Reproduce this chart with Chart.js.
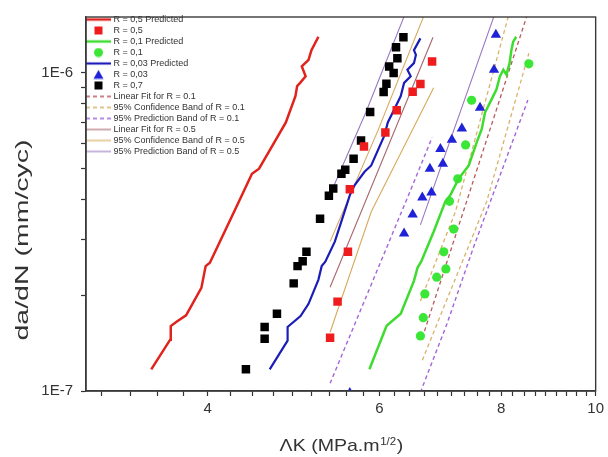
<!DOCTYPE html>
<html>
<head>
<meta charset="utf-8">
<script src="https://cdn.jsdelivr.net/npm/chart.js@4.4.1/dist/chart.umd.min.js"></script>
<style>
  html, body { margin: 0; padding: 0; background: #fff; }
  #wrap { width: 608px; height: 457px; position: relative; }
</style>
</head>
<body>
<div id="wrap"><canvas id="chart"></canvas></div>
<script>
// predicted curves
const redPredX = [3.50, 3.66, 3.665, 3.725, 3.80, 3.94, 3.98, 4.02, 4.29, 4.44, 4.515, 4.66, 4.81, 4.92, 4.94, 4.975, 5.04, 4.995, 5.075, 5.11, 5.195];
const redPredY = [1.17e-7, 1.45e-7, 1.60e-7, 1.66e-7, 1.73e-7, 2.11e-7, 2.47e-7, 2.53e-7, 3.85e-7, 4.82e-7, 5.00e-7, 5.91e-7, 6.99e-7, 8.46e-7, 9.09e-7, 9.31e-7, 9.76e-7, 1.049e-6, 1.10e-6, 1.18e-6, 1.30e-6];
const greenPredX = [5.86, 6.095, 6.11, 6.31, 6.51, 6.565, 6.625, 6.82, 7.01, 7.095, 7.235, 7.41, 7.55, 7.64, 7.70, 7.82, 7.91, 7.975, 8.04, 8.10, 8.16, 8.195, 8.23, 8.29];
const greenPredY = [1.17e-7, 1.59e-7, 1.61e-7, 1.75e-7, 2.22e-7, 2.44e-7, 2.56e-7, 3.17e-7, 3.94e-7, 4.13e-7, 4.65e-7, 5.12e-7, 6.05e-7, 6.66e-7, 7.51e-7, 8.26e-7, 8.87e-7, 9.76e-7, 1.024e-6, 9.88e-7, 1.074e-6, 1.18e-6, 1.255e-6, 1.30e-6];
const bluePredX = [4.63, 4.83, 4.83, 4.98, 5.075, 5.195, 5.235, 5.28, 5.40, 5.53, 5.595, 5.66, 5.79, 5.885, 6.07, 6.12, 6.215, 6.31, 6.36, 6.46, 6.41, 6.51, 6.54, 6.51, 6.61];
const bluePredY = [1.17e-7, 1.44e-7, 1.59e-7, 1.72e-7, 1.88e-7, 2.24e-7, 2.47e-7, 2.55e-7, 2.95e-7, 3.69e-7, 4.13e-7, 4.44e-7, 4.88e-7, 5.12e-7, 6.35e-7, 6.99e-7, 7.69e-7, 8.46e-7, 9.31e-7, 9.76e-7, 1.024e-6, 1.074e-6, 1.14e-6, 1.18e-6, 1.285e-6];

// measured points
const r05X = [5.34, 5.435, 5.57, 5.595, 5.785, 6.085, 6.25, 6.49, 6.61, 6.795];
const r05Y = [1.47e-7, 1.91e-7, 2.74e-7, 4.31e-7, 5.87e-7, 6.50e-7, 7.63e-7, 8.73e-7, 9.24e-7, 1.087e-6];
const r01X = [6.61, 6.655, 6.68, 6.87, 7.02, 6.985, 7.15, 7.08, 7.22, 7.355, 7.46, 8.54];
const r01Y = [1.49e-7, 1.70e-7, 2.02e-7, 2.28e-7, 2.42e-7, 2.74e-7, 3.23e-7, 3.95e-7, 4.65e-7, 5.94e-7, 8.21e-7, 1.069e-6];
const r003X = [5.595, 6.36, 6.49, 6.64, 6.785, 6.76, 6.97, 6.93, 7.12, 7.29, 7.61, 7.865, 7.90];
const r003Y = [0.985e-7, 3.13e-7, 3.59e-7, 4.06e-7, 4.21e-7, 5.00e-7, 5.18e-7, 5.77e-7, 6.17e-7, 6.69e-7, 7.78e-7, 1.024e-6, 1.32e-6];
const r07X = [4.377, 4.575, 4.575, 4.71, 4.90, 4.945, 5.005, 5.05, 5.215, 5.325, 5.38, 5.485, 5.535, 5.645, 5.745, 5.87, 6.06, 6.10, 6.14, 6.205, 6.26, 6.24, 6.35];
const r07Y = [1.17e-7, 1.46e-7, 1.59e-7, 1.75e-7, 2.18e-7, 2.47e-7, 2.56e-7, 2.74e-7, 3.48e-7, 4.11e-7, 4.33e-7, 4.82e-7, 4.96e-7, 5.37e-7, 6.13e-7, 7.54e-7, 8.71e-7, 9.25e-7, 1.049e-6, 1.0e-6, 1.113e-6, 1.205e-6, 1.295e-6];

// fits and bands (null splits the two curves of a band)
const fit01X = [6.64, 8.54];
const fit01Y = [1.47e-7, 1.58e-6];
const conf01X = [6.61, 7.18, 8.14, null, 6.64, 7.73, 8.54];
const conf01Y = [1.92e-7, 3.66e-7, 1.516e-6, null, 1.25e-7, 3.94e-7, 1.154e-6];
const pred01X = [5.34, 6.51, 6.795, null, 6.61, 7.04, 7.49, 8.52];
const pred01Y = [1.057e-7, 4.54e-7, 6.27e-7, null, 0.99e-7, 1.63e-7, 2.82e-7, 8.22e-7];
const fit05X = [5.34, 6.81];
const fit05Y = [2.12e-7, 1.295e-6];
const conf05X = [5.34, 5.98, 6.66, null, 5.34, 5.885, 6.82];
const conf05Y = [2.95e-7, 6.60e-7, 1.505e-6, null, 1.53e-7, 3.66e-7, 8.98e-7];
const pred05X = [5.355, 5.81, 6.40, null, 6.61, 7.89];
const pred05Y = [4.23e-7, 7.51e-7, 1.58e-6, null, 3.33e-7, 1.55e-6];

// axes
const xMajor = [4, 6, 8, 10];
const yTicks = [1e-7, 2e-7, 3e-7, 4e-7, 5e-7, 6e-7, 7e-7, 8e-7, 9e-7, 1e-6];
const yTitle = 'da/dN (mm/cyc)';
const xTitle = ['\u039BK (MPa.m', '1/2', ')'];

var xTicks = [];
for (let k = -4; k <= 27; k++) { xTicks.push(4 + k * 2 / 9); }

const FONT = '"Liberation Sans", Arial, sans-serif';
const INK = '#333';

function pts(xs, ys) {
  return xs.map((x, i) => ({ x: x, y: ys[i] }));
}
function lineSet(label, xs, ys, color, width, dash) {
  return {
    label: label, data: pts(xs, ys), showLine: true,
    borderColor: color, backgroundColor: color, borderWidth: width,
    borderDash: dash || [], pointRadius: 0, pointHoverRadius: 0,
    tension: 0, spanGaps: false, fill: false
  };
}
function markSet(label, xs, ys, color, style, r) {
  return {
    label: label, data: pts(xs, ys), showLine: false,
    pointStyle: style, pointRadius: r, pointHoverRadius: r,
    backgroundColor: color, borderColor: color, borderWidth: 0
  };
}

// little pictures for the legend
function sample(ds) {
  const c = document.createElement('canvas');
  c.width = 25; c.height = 10;
  const g = c.getContext('2d');
  if (ds.showLine) {
    g.strokeStyle = ds.borderColor;
    g.lineWidth = ds.borderWidth;
    g.setLineDash(ds.borderDash);
    g.beginPath(); g.moveTo(0, 5); g.lineTo(25, 5); g.stroke();
  } else {
    g.fillStyle = ds.backgroundColor;
    g.beginPath();
    if (ds.pointStyle === 'rect') g.rect(8.5, 1, 8, 8);
    else if (ds.pointStyle === 'circle') g.arc(12.5, 5, 4.5, 0, Math.PI * 2);
    else { g.moveTo(12.5, 0.5); g.lineTo(17.5, 9.3); g.lineTo(7.5, 9.3); g.closePath(); }
    g.fill();
  }
  return c;
}

const decor = {
  id: 'decor',
  afterDraw(chart) {
    const ctx = chart.ctx, a = chart.chartArea;
    ctx.save();
    ctx.strokeStyle = '#3a3a3a';
    ctx.lineWidth = 1.4;
    ctx.strokeRect(a.left, a.top, a.right - a.left, a.bottom - a.top);
    ctx.restore();

    // y title, stretched like the original
    ctx.save();
    ctx.fillStyle = INK;
    ctx.translate(23, 240);
    ctx.rotate(-Math.PI / 2);
    ctx.scale(1.5, 1);
    ctx.font = '19px ' + FONT;
    ctx.textAlign = 'center';
    ctx.textBaseline = 'middle';
    ctx.fillText(yTitle, 0, 0);
    ctx.restore();

    // x title with superscript
    ctx.save();
    ctx.fillStyle = INK;
    ctx.translate((a.left + a.right) / 2, 451);
    ctx.scale(1.15, 1);
    const big = '17px ' + FONT, small = '10px ' + FONT;
    ctx.font = big;
    const w1 = ctx.measureText(xTitle[0]).width, w3 = ctx.measureText(xTitle[2]).width;
    ctx.font = small;
    const w2 = ctx.measureText(xTitle[1]).width;
    let x = -(w1 + w2 + w3) / 2;
    ctx.textAlign = 'left';
    ctx.textBaseline = 'alphabetic';
    ctx.font = big; ctx.fillText(xTitle[0], x, 0); x += w1;
    ctx.font = small; ctx.fillText(xTitle[1], x + 0.5, -6.5); x += w2 + 1;
    ctx.font = big; ctx.fillText(xTitle[2], x, 0);
    ctx.restore();
  }
};

const datasets = [
  lineSet('R = 0,5 Predicted', redPredX, redPredY, '#e0231c', 2.5),
  markSet('R = 0,5', r05X, r05Y, '#ee1c1c', 'rect', 6),
  lineSet('R = 0,1 Predicted', greenPredX, greenPredY, '#3fdc30', 2.5),
  markSet('R = 0,1', r01X, r01Y, '#3ae636', 'circle', 4.6),
  lineSet('R = 0,03 Predicted', bluePredX, bluePredY, '#1c1cb8', 2.2),
  markSet('R = 0,03', r003X, r003Y, '#1f22d6', 'triangle', 6),
  markSet('R = 0,7', r07X, r07Y, '#000000', 'rect', 6),
  lineSet('Linear Fit for R = 0.1', fit01X, fit01Y, '#b85a5e', 1.3, [4, 3]),
  lineSet('95% Confidence Band of R = 0.1', conf01X, conf01Y, '#d9b26a', 1.3, [4, 3]),
  lineSet('95% Prediction Band of R = 0.1', pred01X, pred01Y, '#a366d8', 1.4, [4, 3]),
  lineSet('Linear Fit for R = 0.5', fit05X, fit05Y, '#a8666e', 1.1),
  lineSet('95% Confidence Band of R = 0.5', conf05X, conf05Y, '#d7a95c', 1.1),
  lineSet('95% Prediction Band of R = 0.5', pred05X, pred05Y, '#9a78c2', 1.1)
];

new Chart(document.getElementById('chart'), {
  type: 'scatter',
  data: { datasets: datasets },
  plugins: [decor],
  options: {
    responsive: true,
    maintainAspectRatio: false,
    animation: false,
    layout: { padding: { top: 12, right: 8, bottom: 0, left: 0 } },
    plugins: {
      tooltip: { enabled: false },
      legend: {
        position: 'chartArea',
        align: 'start',
        // empty title only pushes the list down inside the plot frame
        title: { display: true, text: '', font: { size: 1, lineHeight: 1 }, padding: { top: 6, bottom: 6 } },
        labels: {
          usePointStyle: true,
          pointStyleWidth: 21,
          padding: 2,
          color: INK,
          font: { family: FONT, size: 9 },
          generateLabels: (chart) => chart.data.datasets.map((ds, i) => ({
            text: ds.label,
            pointStyle: sample(ds),
            datasetIndex: i,
            hidden: false,
            fontColor: INK,
            lineWidth: 0,
            strokeStyle: 'rgba(0,0,0,0)',
            fillStyle: 'rgba(0,0,0,0)'
          }))
        }
      }
    },
    scales: {
      x: {
        type: 'logarithmic',
        min: 3, max: 10,
        afterBuildTicks: (scale) => { scale.ticks = xTicks.map(v => ({ value: v })); },
        afterFit: (scale) => { scale.height = 66; },
        grid: { drawOnChartArea: false, drawTicks: true, tickLength: 5, tickColor: INK, tickWidth: 1.2 },
        border: { display: true, color: '#3a3a3a', width: 1.4 },
        ticks: {
          autoSkip: false, maxRotation: 0, padding: 4, color: INK,
          font: { family: FONT, size: 15 },
          callback: (v) => {
            const n = Math.round(v);
            return (Math.abs(v - n) < 1e-6 && xMajor.includes(n)) ? String(n) : '';
          }
        }
      },
      y: {
        type: 'logarithmic',
        min: 1e-7, max: 1.5e-6,
        afterBuildTicks: (scale) => { scale.ticks = yTicks.map(v => ({ value: v })); },
        afterFit: (scale) => { scale.width = 86; },
        grid: { drawOnChartArea: false, drawTicks: true, tickLength: 5, tickColor: INK, tickWidth: 1.2 },
        border: { display: true, color: '#3a3a3a', width: 1.4 },
        ticks: {
          autoSkip: false, padding: 8, color: INK,
          font: { family: FONT, size: 15 },
          callback: (v) => {
            const e = Math.log10(v), n = Math.round(e);
            return Math.abs(e - n) < 1e-6 ? '1E' + n : '';
          }
        }
      }
    }
  }
});
</script>
</body>
</html>
